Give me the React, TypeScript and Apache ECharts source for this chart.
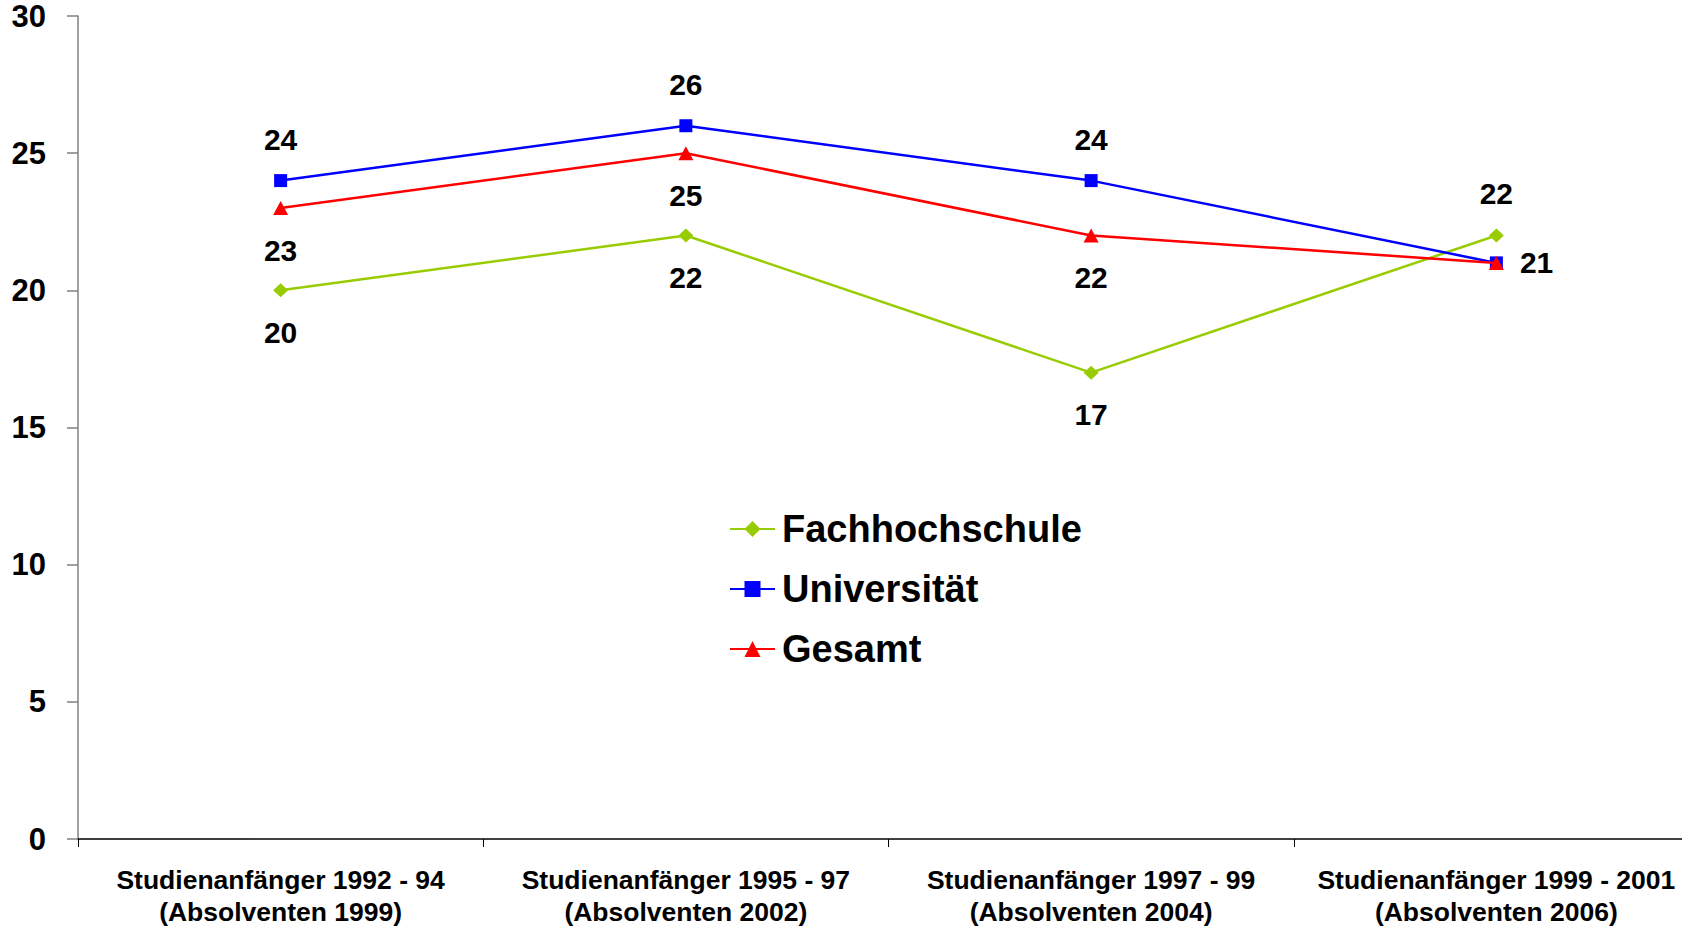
import React, { useEffect, useRef } from "react";
import * as echarts from "echarts";

const categories = [
  "Studienanfänger 1992 - 94\n(Absolventen 1999)",
  "Studienanfänger 1995 - 97\n(Absolventen 2002)",
  "Studienanfänger 1997 - 99\n(Absolventen 2004)",
  "Studienanfänger 1999 - 2001\n(Absolventen 2006)",
];
const fachhochschule = [20, 22, 17, 22];
const universitaet = [24, 26, 24, 21];
const gesamt = [23, 25, 22, 21];

const FONT = "'Liberation Sans', Arial, sans-serif";

export default function App() {
  const ref = useRef<HTMLDivElement>(null);
  useEffect(() => {
    if (!ref.current) return;
    const chart = echarts.init(ref.current, undefined, { renderer: "svg" });
    const labelBase = {
      show: true,
      fontFamily: FONT,
      fontWeight: "bold" as const,
      fontSize: 30,
      color: "#000",
      distance: 20,
    };
    chart.setOption({
      animation: false,
      backgroundColor: "#fff",
      grid: {
        left: 78,
        right: -17,
        top: 16,
        bottom: 88,
        containLabel: false,
        outerBoundsMode: "none",
      },
      legend: {
        orient: "vertical",
        left: 724,
        top: 505,
        itemWidth: 45,
        itemHeight: 20,
        itemGap: 22,
        textStyle: { fontFamily: FONT, fontWeight: "bold", fontSize: 38, color: "#000", padding: [0, 0, 0, 2] },
        data: ["Fachhochschule", "Universität", "Gesamt"],
      },
      xAxis: {
        type: "category",
        data: categories,
        boundaryGap: true,
        axisLine: { lineStyle: { color: "#000", width: 1.5 } },
        axisTick: { show: true, length: 8, lineStyle: { color: "#000", width: 1 } },
        axisLabel: {
          fontFamily: FONT,
          fontWeight: "bold",
          fontSize: 26.5,
          lineHeight: 32,
          color: "#000",
          margin: 25,
          interval: 0,
        },
        splitLine: { show: false },
      },
      yAxis: {
        type: "value",
        min: 0,
        max: 30,
        interval: 5,
        axisLine: { show: true, lineStyle: { color: "#808080", width: 1.5 } },
        axisTick: { show: true, length: 11, lineStyle: { color: "#808080", width: 1.5 } },
        axisLabel: {
          fontFamily: FONT,
          fontWeight: "bold",
          fontSize: 31,
          color: "#000",
          margin: 32,
        },
        splitLine: { show: false },
      },
      series: [
        {
          name: "Fachhochschule",
          type: "line",
          data: fachhochschule.map((v, i) => ({
            value: v,
            label: { position: i === 3 ? "top" : "bottom" },
          })),
          symbol: "diamond",
          symbolSize: [15, 14],
          color: "#99CC00",
          lineStyle: { color: "#99CC00", width: 2.5 },
          itemStyle: { color: "#99CC00" },
          label: { ...labelBase, position: "bottom" },
          z: 2,
        },
        {
          name: "Universität",
          type: "line",
          data: universitaet.map((v, i) => ({
            value: v,
            label: i === 3 ? { position: "right", distance: 17 } : { position: "top" },
          })),
          symbol: "rect",
          symbolSize: 13,
          color: "#0000FF",
          lineStyle: { color: "#0000FF", width: 2.5 },
          itemStyle: { color: "#0000FF" },
          label: { ...labelBase, position: "top" },
          z: 3,
        },
        {
          name: "Gesamt",
          type: "line",
          data: gesamt.map((v, i) => ({
            value: v,
            label: i === 3 ? { show: false } : { position: "bottom" },
          })),
          symbol: "triangle",
          symbolSize: [15, 14],
          color: "#FF0000",
          lineStyle: { color: "#FF0000", width: 2.5 },
          itemStyle: { color: "#FF0000" },
          label: { ...labelBase, position: "bottom" },
          z: 4,
        },
      ],
    });
    return () => chart.dispose();
  }, []);
  return (
    <div
      ref={ref}
      style={{ position: "absolute", left: 0, top: 0, width: 1682, height: 927, background: "#fff" }}
    />
  );
}
